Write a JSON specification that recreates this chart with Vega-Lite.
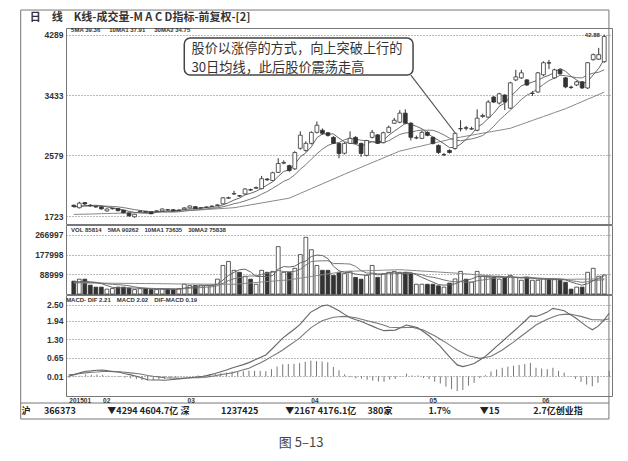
{
 "$schema": "https://vega.github.io/schema/vega-lite/v6.json",
 "padding": {"left": 19, "top": 9, "right": 6, "bottom": 8},
 "background": "white",
 "bounds": "flush",
 "spacing": 1,
 "title": {"text": "图 5–13", "orient": "bottom", "anchor": "middle", "offset": 17, "dx": -15, "fontSize": 13, "font": "Noto Sans CJK SC", "fontWeight": "normal", "color": "#444"},
 "data": {"values": [
{"i":0,"o":1875,"h":1885,"l":1845,"c":1858,"m5":1850,"m10":1855,"m30":1745,"v":58000,"v5":55000,"v10":52000,"v30":50000,"dif":0.00,"dea":0.05,"md":-0.05},
{"i":1,"o":1840,"h":1925,"l":1830,"c":1905,"m5":1862,"m10":1858,"m30":1747,"v":67000,"v5":56000,"v10":52500,"v30":49800,"dif":0.06,"dea":0.07,"md":-0.01},
{"i":2,"o":1912,"h":1920,"l":1880,"c":1893,"m5":1870,"m10":1862,"m30":1749,"v":67000,"v5":57000,"v10":53000,"v30":49600,"dif":0.12,"dea":0.10,"md":0.02},
{"i":3,"o":1875,"h":1890,"l":1855,"c":1868,"m5":1872,"m10":1865,"m30":1751,"v":40000,"v5":55000,"v10":52500,"v30":49400,"dif":0.18,"dea":0.12,"md":0.06},
{"i":4,"o":1858,"h":1868,"l":1840,"c":1850,"m5":1875,"m10":1866,"m30":1753,"v":31000,"v5":52600,"v10":51000,"v30":49200,"dif":0.19,"dea":0.14,"md":0.05},
{"i":5,"o":1852,"h":1860,"l":1815,"c":1823,"m5":1868,"m10":1865,"m30":1756,"v":31000,"v5":47200,"v10":49000,"v30":49000,"dif":0.21,"dea":0.15,"md":0.06},
{"i":6,"o":1795,"h":1830,"l":1785,"c":1822,"m5":1851,"m10":1862,"m30":1758,"v":22000,"v5":38200,"v10":46000,"v30":48800,"dif":0.22,"dea":0.17,"md":0.05},
{"i":7,"o":1825,"h":1840,"l":1815,"c":1830,"m5":1839,"m10":1858,"m30":1760,"v":25000,"v5":29800,"v10":43500,"v30":48600,"dif":0.19,"dea":0.17,"md":0.02},
{"i":8,"o":1828,"h":1835,"l":1790,"c":1798,"m5":1825,"m10":1852,"m30":1762,"v":31000,"v5":28000,"v10":42000,"v30":48400,"dif":0.17,"dea":0.16,"md":0.01},
{"i":9,"o":1805,"h":1812,"l":1760,"c":1768,"m5":1808,"m10":1842,"m30":1765,"v":31000,"v5":28000,"v10":40300,"v30":48200,"dif":0.14,"dea":0.16,"md":-0.02},
{"i":10,"o":1765,"h":1772,"l":1715,"c":1725,"m5":1789,"m10":1828,"m30":1767,"v":27000,"v5":27200,"v10":37200,"v30":48000,"dif":0.09,"dea":0.14,"md":-0.05},
{"i":11,"o":1712,"h":1755,"l":1700,"c":1748,"m5":1774,"m10":1813,"m30":1770,"v":20000,"v5":26800,"v10":32500,"v30":47800,"dif":0.05,"dea":0.12,"md":-0.07},
{"i":12,"o":1785,"h":1805,"l":1775,"c":1792,"m5":1766,"m10":1802,"m30":1772,"v":24000,"v5":26600,"v10":28200,"v30":47500,"dif":0.00,"dea":0.10,"md":-0.10},
{"i":13,"o":1785,"h":1792,"l":1768,"c":1778,"m5":1762,"m10":1793,"m30":1775,"v":25000,"v5":25400,"v10":26700,"v30":47200,"dif":-0.06,"dea":0.07,"md":-0.13},
{"i":14,"o":1782,"h":1790,"l":1748,"c":1755,"m5":1760,"m10":1784,"m30":1777,"v":20000,"v5":23200,"v10":25600,"v30":47000,"dif":-0.12,"dea":0.03,"md":-0.15},
{"i":15,"o":1790,"h":1805,"l":1780,"c":1795,"m5":1774,"m10":1781,"m30":1780,"v":20000,"v5":21800,"v10":24500,"v30":46700,"dif":-0.13,"dea":0.00,"md":-0.13},
{"i":16,"o":1795,"h":1830,"l":1788,"c":1822,"m5":1788,"m10":1781,"m30":1782,"v":22000,"v5":22200,"v10":24500,"v30":46400,"dif":-0.13,"dea":-0.02,"md":-0.11},
{"i":17,"o":1812,"h":1820,"l":1800,"c":1808,"m5":1792,"m10":1779,"m30":1785,"v":22000,"v5":21800,"v10":24200,"v30":46100,"dif":-0.14,"dea":-0.05,"md":-0.09},
{"i":18,"o":1812,"h":1818,"l":1788,"c":1795,"m5":1795,"m10":1779,"m30":1787,"v":22000,"v5":21200,"v10":23300,"v30":45800,"dif":-0.12,"dea":-0.06,"md":-0.06},
{"i":19,"o":1800,"h":1815,"l":1795,"c":1806,"m5":1805,"m10":1782,"m30":1790,"v":24000,"v5":22000,"v10":22600,"v30":45500,"dif":-0.10,"dea":-0.06,"md":-0.04},
{"i":20,"o":1822,"h":1845,"l":1815,"c":1838,"m5":1814,"m10":1794,"m30":1795,"v":44000,"v5":26800,"v10":24300,"v30":45300,"dif":-0.08,"dea":-0.07,"md":-0.01},
{"i":21,"o":1838,"h":1872,"l":1830,"c":1865,"m5":1822,"m10":1805,"m30":1800,"v":38000,"v5":30000,"v10":26100,"v30":45100,"dif":-0.06,"dea":-0.06,"md":0.00},
{"i":22,"o":1855,"h":1862,"l":1820,"c":1828,"m5":1826,"m10":1809,"m30":1805,"v":38000,"v5":33200,"v10":27500,"v30":44900,"dif":-0.04,"dea":-0.05,"md":0.01},
{"i":23,"o":1835,"h":1850,"l":1828,"c":1840,"m5":1835,"m10":1815,"m30":1810,"v":40000,"v5":36800,"v10":29000,"v30":44700,"dif":-0.02,"dea":-0.05,"md":0.03},
{"i":24,"o":1845,"h":1858,"l":1838,"c":1850,"m5":1844,"m10":1825,"m30":1815,"v":38000,"v5":39600,"v10":30800,"v30":44500,"dif":0.00,"dea":-0.04,"md":0.04},
{"i":25,"o":1858,"h":1872,"l":1850,"c":1862,"m5":1849,"m10":1831,"m30":1820,"v":40000,"v5":38800,"v10":32800,"v30":44300,"dif":0.05,"dea":-0.01,"md":0.06},
{"i":26,"o":1872,"h":1890,"l":1865,"c":1880,"m5":1852,"m10":1837,"m30":1825,"v":67000,"v5":44600,"v10":37300,"v30":44100,"dif":0.10,"dea":0.02,"md":0.08},
{"i":27,"o":1895,"h":1990,"l":1890,"c":1980,"m5":1882,"m10":1854,"m30":1830,"v":129000,"v5":62800,"v10":48000,"v30":44000,"dif":0.16,"dea":0.06,"md":0.10},
{"i":28,"o":1975,"h":1995,"l":1965,"c":1982,"m5":1911,"m10":1873,"m30":1835,"v":147000,"v5":84200,"v10":60500,"v30":43900,"dif":0.22,"dea":0.09,"md":0.13},
{"i":29,"o":2035,"h":2080,"l":2020,"c":2040,"m5":1949,"m10":1897,"m30":1840,"v":107000,"v5":98000,"v10":68800,"v30":43900,"dif":0.29,"dea":0.12,"md":0.17},
{"i":30,"o":2010,"h":2020,"l":1995,"c":2005,"m5":1977,"m10":1913,"m30":1854,"v":98000,"v5":109600,"v10":74200,"v30":45900,"dif":0.35,"dea":0.17,"md":0.18},
{"i":31,"o":2035,"h":2115,"l":2025,"c":2105,"m5":2022,"m10":1937,"m30":1867,"v":80000,"v5":112200,"v10":78400,"v30":47900,"dif":0.41,"dea":0.23,"md":0.18},
{"i":32,"o":2095,"h":2110,"l":2080,"c":2090,"m5":2044,"m10":1963,"m30":1881,"v":67000,"v5":99800,"v10":81300,"v30":49900,"dif":0.48,"dea":0.28,"md":0.20},
{"i":33,"o":2115,"h":2140,"l":2105,"c":2125,"m5":2073,"m10":1992,"m30":1894,"v":44000,"v5":79200,"v10":81700,"v30":51900,"dif":0.57,"dea":0.38,"md":0.19},
{"i":34,"o":2110,"h":2290,"l":2100,"c":2250,"m5":2115,"m10":2032,"m30":1908,"v":107000,"v5":79200,"v10":88600,"v30":54000,"dif":0.66,"dea":0.47,"md":0.19},
{"i":35,"o":2245,"h":2260,"l":2220,"c":2235,"m5":2161,"m10":2069,"m30":1921,"v":98000,"v5":79200,"v10":94400,"v30":56000,"dif":0.75,"dea":0.57,"md":0.18},
{"i":36,"o":2225,"h":2350,"l":2215,"c":2335,"m5":2207,"m10":2115,"m30":1935,"v":102000,"v5":83600,"v10":97900,"v30":58000,"dif":0.94,"dea":0.69,"md":0.25},
{"i":37,"o":2340,"h":2540,"l":2330,"c":2465,"m5":2282,"m10":2163,"m30":1948,"v":214000,"v5":113000,"v10":106400,"v30":60000,"dif":1.14,"dea":0.80,"md":0.34},
{"i":38,"o":2470,"h":2510,"l":2455,"c":2480,"m5":2353,"m10":2213,"m30":1962,"v":98000,"v5":123800,"v10":101500,"v30":62000,"dif":1.34,"dea":0.92,"md":0.42},
{"i":39,"o":2435,"h":2450,"l":2350,"c":2365,"m5":2376,"m10":2246,"m30":1975,"v":98000,"v5":122000,"v10":100600,"v30":64000,"dif":1.49,"dea":1.06,"md":0.43},
{"i":40,"o":2390,"h":2640,"l":2375,"c":2620,"m5":2453,"m10":2307,"m30":2009,"v":116000,"v5":125600,"v10":102400,"v30":67800,"dif":1.64,"dea":1.20,"md":0.44},
{"i":41,"o":2680,"h":2920,"l":2660,"c":2865,"m5":2559,"m10":2383,"m30":2043,"v":178000,"v5":140800,"v10":112200,"v30":71600,"dif":1.80,"dea":1.34,"md":0.46},
{"i":42,"o":2650,"h":2780,"l":2630,"c":2750,"m5":2616,"m10":2449,"m30":2077,"v":256000,"v5":149200,"v10":131100,"v30":75400,"dif":2.03,"dea":1.52,"md":0.51},
{"i":43,"o":2750,"h":2920,"l":2735,"c":2905,"m5":2701,"m10":2527,"m30":2111,"v":200000,"v5":169600,"v10":146700,"v30":79200,"dif":2.25,"dea":1.70,"md":0.55},
{"i":44,"o":2906,"h":3060,"l":2890,"c":3006,"m5":2829,"m10":2603,"m30":2145,"v":129000,"v5":175800,"v10":148900,"v30":83000,"dif":2.36,"dea":1.83,"md":0.53},
{"i":45,"o":2935,"h":2960,"l":2870,"c":2892,"m5":2884,"m10":2668,"m30":2178,"v":107000,"v5":174000,"v10":149800,"v30":86800,"dif":2.47,"dea":1.95,"md":0.52},
{"i":46,"o":2900,"h":2910,"l":2845,"c":2862,"m5":2883,"m10":2721,"m30":2212,"v":107000,"v5":159800,"v10":150300,"v30":90600,"dif":2.50,"dea":2.01,"md":0.49},
{"i":47,"o":2835,"h":2850,"l":2740,"c":2750,"m5":2883,"m10":2750,"m30":2246,"v":84000,"v5":125400,"v10":137300,"v30":94400,"dif":2.40,"dea":2.07,"md":0.33},
{"i":48,"o":2749,"h":2760,"l":2540,"c":2607,"m5":2823,"m10":2762,"m30":2280,"v":98000,"v5":105000,"v10":137300,"v30":98200,"dif":2.30,"dea":2.09,"md":0.21},
{"i":49,"o":2610,"h":2765,"l":2595,"c":2750,"m5":2772,"m10":2801,"m30":2314,"v":92000,"v5":97600,"v10":136700,"v30":102000,"dif":2.17,"dea":2.10,"md":0.07},
{"i":50,"o":2750,"h":2920,"l":2740,"c":2821,"m5":2758,"m10":2821,"m30":2347,"v":102000,"v5":96600,"v10":135300,"v30":102800,"dif":2.05,"dea":2.08,"md":-0.03},
{"i":51,"o":2835,"h":2850,"l":2740,"c":2750,"m5":2736,"m10":2809,"m30":2379,"v":75000,"v5":90200,"v10":125000,"v30":103600,"dif":1.98,"dea":2.05,"md":-0.07},
{"i":52,"o":2749,"h":2760,"l":2560,"c":2607,"m5":2707,"m10":2795,"m30":2412,"v":67000,"v5":86800,"v10":106100,"v30":104400,"dif":1.92,"dea":2.00,"md":-0.08},
{"i":53,"o":2580,"h":2800,"l":2565,"c":2790,"m5":2744,"m10":2784,"m30":2445,"v":85000,"v5":84200,"v10":94600,"v30":105200,"dif":1.83,"dea":1.95,"md":-0.12},
{"i":54,"o":2835,"h":2940,"l":2820,"c":2906,"m5":2775,"m10":2774,"m30":2478,"v":129000,"v5":91600,"v10":94600,"v30":106000,"dif":1.75,"dea":1.90,"md":-0.15},
{"i":55,"o":2870,"h":2880,"l":2740,"c":2750,"m5":2761,"m10":2759,"m30":2510,"v":75000,"v5":86200,"v10":91400,"v30":106700,"dif":1.67,"dea":1.85,"md":-0.18},
{"i":56,"o":2760,"h":2915,"l":2750,"c":2900,"m5":2791,"m10":2763,"m30":2543,"v":92000,"v5":89600,"v10":89900,"v30":107500,"dif":1.60,"dea":1.79,"md":-0.19},
{"i":57,"o":2906,"h":3000,"l":2895,"c":2977,"m5":2865,"m10":2786,"m30":2576,"v":98000,"v5":95800,"v10":91300,"v30":108300,"dif":1.61,"dea":1.72,"md":-0.11},
{"i":58,"o":3035,"h":3110,"l":3025,"c":3077,"m5":2922,"m10":2833,"m30":2608,"v":102000,"v5":99200,"v10":91700,"v30":109100,"dif":1.62,"dea":1.71,"md":-0.09},
{"i":59,"o":3049,"h":3220,"l":3035,"c":3177,"m5":2976,"m10":2876,"m30":2641,"v":98000,"v5":93000,"v10":92300,"v30":109900,"dif":1.71,"dea":1.70,"md":0.01},
{"i":60,"o":3177,"h":3230,"l":3020,"c":3035,"m5":3033,"m10":2897,"m30":2659,"v":98000,"v5":97600,"v10":91900,"v30":108400,"dif":1.80,"dea":1.71,"md":0.09},
{"i":61,"o":3035,"h":3050,"l":2790,"c":2835,"m5":3020,"m10":2905,"m30":2678,"v":92000,"v5":97600,"v10":93600,"v30":106900,"dif":1.75,"dea":1.72,"md":0.03},
{"i":62,"o":2825,"h":2860,"l":2810,"c":2830,"m5":2991,"m10":2928,"m30":2696,"v":44000,"v5":86800,"v10":91300,"v30":105300,"dif":1.70,"dea":1.67,"md":0.03},
{"i":63,"o":2821,"h":2930,"l":2810,"c":2906,"m5":2957,"m10":2939,"m30":2714,"v":44000,"v5":75200,"v10":87200,"v30":103800,"dif":1.56,"dea":1.62,"md":-0.06},
{"i":64,"o":2906,"h":2920,"l":2850,"c":2863,"m5":2894,"m10":2935,"m30":2733,"v":44000,"v5":64400,"v10":78700,"v30":102300,"dif":1.42,"dea":1.52,"md":-0.10},
{"i":65,"o":2835,"h":2850,"l":2735,"c":2749,"m5":2837,"m10":2935,"m30":2751,"v":44000,"v5":53600,"v10":75600,"v30":100800,"dif":1.23,"dea":1.42,"md":-0.19},
{"i":66,"o":2721,"h":2735,"l":2600,"c":2621,"m5":2794,"m10":2907,"m30":2769,"v":37000,"v5":42600,"v10":70100,"v30":99300,"dif":1.05,"dea":1.30,"md":-0.25},
{"i":67,"o":2588,"h":2615,"l":2570,"c":2592,"m5":2746,"m10":2869,"m30":2787,"v":31000,"v5":40000,"v10":63400,"v30":97700,"dif":0.82,"dea":1.18,"md":-0.36},
{"i":68,"o":2650,"h":2665,"l":2605,"c":2621,"m5":2689,"m10":2823,"m30":2806,"v":49000,"v5":41000,"v10":58100,"v30":96200,"dif":0.60,"dea":1.05,"md":-0.45},
{"i":69,"o":2678,"h":2905,"l":2660,"c":2892,"m5":2695,"m10":2794,"m30":2824,"v":68000,"v5":45800,"v10":55100,"v30":94700,"dif":0.40,"dea":0.92,"md":-0.52},
{"i":70,"o":2955,"h":3077,"l":2920,"c":2960,"m5":2737,"m10":2787,"m30":2838,"v":102000,"v5":57400,"v10":55500,"v30":92800,"dif":0.34,"dea":0.82,"md":-0.48},
{"i":71,"o":2970,"h":2995,"l":2935,"c":2965,"m5":2806,"m10":2800,"m30":2852,"v":67000,"v5":63400,"v10":53000,"v30":90800,"dif":0.39,"dea":0.72,"md":-0.33},
{"i":72,"o":2952,"h":2985,"l":2940,"c":2958,"m5":2879,"m10":2813,"m30":2866,"v":53000,"v5":67800,"v10":53900,"v30":88900,"dif":0.45,"dea":0.68,"md":-0.23},
{"i":73,"o":2935,"h":3230,"l":2920,"c":3106,"m5":2976,"m10":2833,"m30":2880,"v":102000,"v5":78400,"v10":59700,"v30":86900,"dif":0.57,"dea":0.63,"md":-0.06},
{"i":74,"o":3130,"h":3170,"l":3110,"c":3145,"m5":3027,"m10":2861,"m30":2894,"v":80000,"v5":80800,"v10":63300,"v30":85000,"dif":0.70,"dea":0.66,"md":0.04},
{"i":75,"o":3120,"h":3360,"l":3110,"c":3334,"m5":3102,"m10":2919,"m30":2907,"v":80000,"v5":76400,"v10":66900,"v30":83100,"dif":0.87,"dea":0.70,"md":0.17},
{"i":76,"o":3405,"h":3420,"l":3320,"c":3334,"m5":3175,"m10":2991,"m30":2921,"v":75000,"v5":78000,"v10":70700,"v30":81100,"dif":1.05,"dea":0.81,"md":0.24},
{"i":77,"o":3320,"h":3465,"l":3300,"c":3450,"m5":3274,"m10":3077,"m30":2935,"v":67000,"v5":80800,"v10":74300,"v30":79200,"dif":1.22,"dea":0.92,"md":0.30},
{"i":78,"o":3433,"h":3445,"l":3220,"c":3334,"m5":3319,"m10":3148,"m30":2949,"v":75000,"v5":75400,"v10":76900,"v30":77200,"dif":1.40,"dea":1.06,"md":0.34},
{"i":79,"o":3248,"h":3620,"l":3235,"c":3605,"m5":3411,"m10":3219,"m30":2963,"v":84000,"v5":76200,"v10":78500,"v30":75300,"dif":1.57,"dea":1.20,"md":0.37},
{"i":80,"o":3647,"h":3790,"l":3630,"c":3690,"m5":3483,"m10":3292,"m30":2991,"v":75000,"v5":75200,"v10":75800,"v30":74400,"dif":1.75,"dea":1.35,"md":0.40},
{"i":81,"o":3676,"h":3790,"l":3660,"c":3747,"m5":3565,"m10":3370,"m30":3018,"v":62000,"v5":72600,"v10":75300,"v30":73500,"dif":1.93,"dea":1.50,"md":0.43},
{"i":82,"o":3647,"h":3660,"l":3560,"c":3576,"m5":3590,"m10":3432,"m30":3046,"v":75000,"v5":74200,"v10":77500,"v30":72600,"dif":2.12,"dea":1.65,"md":0.47},
{"i":83,"o":3455,"h":3490,"l":3420,"c":3460,"m5":3616,"m10":3468,"m30":3074,"v":62000,"v5":71600,"v10":73500,"v30":71700,"dif":2.10,"dea":1.80,"md":0.30},
{"i":84,"o":3476,"h":3760,"l":3465,"c":3747,"m5":3644,"m10":3528,"m30":3102,"v":62000,"v5":67200,"v10":71700,"v30":70800,"dif":2.17,"dea":1.90,"md":0.27},
{"i":85,"o":3719,"h":3910,"l":3700,"c":3890,"m5":3684,"m10":3583,"m30":3129,"v":70000,"v5":66200,"v10":70700,"v30":69900,"dif":2.25,"dea":2.00,"md":0.25},
{"i":86,"o":3890,"h":3930,"l":3800,"c":3885,"m5":3712,"m10":3638,"m30":3157,"v":67000,"v5":67200,"v10":69900,"v30":69000,"dif":2.38,"dea":2.08,"md":0.30},
{"i":87,"o":3676,"h":3805,"l":3660,"c":3790,"m5":3754,"m10":3672,"m30":3185,"v":65000,"v5":65200,"v10":69700,"v30":68100,"dif":2.34,"dea":2.15,"md":0.19},
{"i":88,"o":3790,"h":3800,"l":3720,"c":3733,"m5":3809,"m10":3712,"m30":3212,"v":62000,"v5":65200,"v10":68400,"v30":67200,"dif":2.30,"dea":2.17,"md":0.13},
{"i":89,"o":3676,"h":3690,"l":3530,"c":3548,"m5":3769,"m10":3707,"m30":3240,"v":53000,"v5":63400,"v10":65300,"v30":66300,"dif":2.17,"dea":2.18,"md":-0.01},
{"i":90,"o":3545,"h":3565,"l":3520,"c":3540,"m5":3699,"m10":3692,"m30":3273,"v":22000,"v5":53800,"v10":60000,"v30":66600,"dif":2.05,"dea":2.14,"md":-0.09},
{"i":91,"o":3576,"h":3635,"l":3560,"c":3620,"m5":3646,"m10":3679,"m30":3307,"v":31000,"v5":46600,"v10":56900,"v30":66900,"dif":1.90,"dea":2.10,"md":-0.20},
{"i":92,"o":3620,"h":3630,"l":3520,"c":3533,"m5":3595,"m10":3675,"m30":3340,"v":31000,"v5":39800,"v10":52500,"v30":67100,"dif":1.75,"dea":2.04,"md":-0.29},
{"i":93,"o":3533,"h":3900,"l":3520,"c":3890,"m5":3626,"m10":3718,"m30":3374,"v":98000,"v5":47000,"v10":56100,"v30":67400,"dif":1.63,"dea":1.98,"md":-0.35},
{"i":94,"o":3933,"h":4020,"l":3920,"c":4004,"m5":3717,"m10":3743,"m30":3407,"v":116000,"v5":59600,"v10":61500,"v30":67700,"dif":1.75,"dea":1.98,"md":-0.23},
{"i":95,"o":3940,"h":4100,"l":3930,"c":4004,"m5":3810,"m10":3755,"m30":3441,"v":80000,"v5":71200,"v10":62500,"v30":68000,"dif":1.95,"dea":1.97,"md":-0.02},
{"i":96,"o":3904,"h":4288,"l":3890,"c":4261,"m5":3938,"m10":3792,"m30":3474,"v":85814,"v5":82200,"v10":64400,"v30":68300,"dif":2.21,"dea":2.02,"md":0.19}
 ]},
 "vconcat": [
  {
   "width": 546, "height": 196,
   "layer": [
    {"mark": {"type": "rule", "color": "#333", "strokeWidth": 1},
     "encoding": {
      "x": {"field": "i", "type": "quantitative", "scale": {"domain": [-0.5, 96.5], "nice": false, "zero": false}, "axis": null},
      "y": {"field": "l", "type": "quantitative", "scale": {"domain": [1610, 4381], "nice": false, "zero": false}, "axis": {"values": [1723, 2579, 3433, 4289], "tickCount": 20, "format": "d", "title": null}},
      "y2": {"field": "h"}}},
    {"data": {"values": [{"t": "frame"}]},
     "mark": {"type": "rect", "fill": "transparent", "stroke": "#777", "strokeWidth": 1, "clip": false},
     "encoding": {"x": {"datum": -9.6, "type": "quantitative", "axis": null}, "x2": {"datum": 96.85}, "y": {"datum": 4635, "type": "quantitative", "title": null}, "y2": {"datum": -1147}}},
    {"data": {"values": [{"t": "status bar"}]},
     "mark": {"type": "rule", "color": "#777", "strokeWidth": 1, "clip": false},
     "encoding": {"x": {"datum": -9.6, "type": "quantitative", "axis": null}, "x2": {"datum": 96.85}, "y": {"datum": -921, "type": "quantitative", "title": null}}},
    {"data": {"values": [{"t": "日　线　K线-成交量-M A C D指标-前复权-[2]"}]},
     "mark": {"type": "text", "align": "left", "baseline": "middle", "fontSize": 11, "fontWeight": "bold", "font": "Noto Sans CJK SC", "color": "#333"},
     "encoding": {"x": {"datum": -7.96, "type": "quantitative", "axis": null}, "y": {"datum": 4522, "type": "quantitative", "title": null}, "text": {"field": "t"}}},
    {"mark": {"type": "line", "color": "#888", "strokeWidth": 1},
     "encoding": {"x": {"field": "i", "type": "quantitative", "axis": null}, "y": {"field": "m30", "type": "quantitative", "title": null}}},
    {"mark": {"type": "line", "color": "#777", "strokeWidth": 1},
     "encoding": {"x": {"field": "i", "type": "quantitative", "axis": null}, "y": {"field": "m10", "type": "quantitative", "title": null}}},
    {"mark": {"type": "line", "color": "#666", "strokeWidth": 1},
     "encoding": {"x": {"field": "i", "type": "quantitative", "axis": null}, "y": {"field": "m5", "type": "quantitative", "title": null}}},
    {"mark": {"type": "bar", "size": 3.8, "stroke": "#333", "strokeWidth": 0.8},
     "encoding": {
      "x": {"field": "i", "type": "quantitative", "axis": null},
      "y": {"field": "o", "type": "quantitative", "title": null},
      "y2": {"field": "c"},
      "fill": {"condition": {"test": "datum.c >= datum.o", "value": "#ffffff"}, "value": "#333333"}}},
    {"data": {"values": [{"t": "5MA 39.36\u2003\u200210MA1 37.91\u2003\u200230MA2 34.75"}]},
     "mark": {"type": "text", "align": "left", "baseline": "middle", "fontSize": 6, "fontWeight": "bold", "font": "Liberation Sans", "color": "#333", "dx": -1},
     "encoding": {"x": {"datum": -0.3, "type": "quantitative", "axis": null}, "y": {"datum": 4350, "type": "quantitative", "title": null}, "text": {"field": "t"}}},
    {"data": {"values": [{"t": "42.88"}]},
     "mark": {"type": "text", "align": "right", "baseline": "middle", "fontSize": 6, "fontWeight": "bold", "font": "Liberation Sans", "color": "#333"},
     "encoding": {"x": {"datum": 95.2, "type": "quantitative", "axis": null}, "y": {"datum": 4275, "type": "quantitative", "title": null}, "text": {"field": "t"}}},
    {"data": {"values": [{"t": "pointer"}]},
     "mark": {"type": "rule", "color": "#555", "strokeWidth": 1.2},
     "encoding": {"x": {"datum": 61, "type": "quantitative", "axis": null}, "x2": {"datum": 69}, "y": {"datum": 3716, "type": "quantitative", "title": null}, "y2": {"datum": 2900}}},
    {"data": {"values": [{"t": "box"}]},
     "mark": {"type": "rect", "fill": "#ffffff", "stroke": "#444", "strokeWidth": 1.5, "cornerRadius": 6},
     "encoding": {"x": {"datum": 20, "type": "quantitative", "axis": null}, "x2": {"datum": 61.4}, "y": {"datum": 4240, "type": "quantitative", "title": null}, "y2": {"datum": 3716}}},
    {"data": {"values": [{"t": "股价以涨停的方式，向上突破上行的"}]},
     "mark": {"type": "text", "align": "left", "baseline": "middle", "fontSize": 13.2, "font": "Noto Sans CJK SC", "color": "#333"},
     "encoding": {"x": {"datum": 21.3, "type": "quantitative", "axis": null}, "y": {"datum": 4090, "type": "quantitative", "title": null}, "text": {"field": "t"}}},
    {"data": {"values": [{"t": "30日均线，此后股价震荡走高"}]},
     "mark": {"type": "text", "align": "left", "baseline": "middle", "fontSize": 13.2, "font": "Noto Sans CJK SC", "color": "#333"},
     "encoding": {"x": {"datum": 21.3, "type": "quantitative", "axis": null}, "y": {"datum": 3818, "type": "quantitative", "title": null}, "text": {"field": "t"}}}
   ]
  },
  {
   "width": 546, "height": 69,
   "layer": [
    {"mark": {"type": "bar", "size": 3.8, "stroke": "#333", "strokeWidth": 0.8},
     "encoding": {
      "x": {"field": "i", "type": "quantitative", "scale": {"domain": [-0.5, 96.5], "nice": false, "zero": false}, "axis": null},
      "y": {"field": "v", "type": "quantitative", "scale": {"domain": [0, 311700], "nice": false}, "axis": {"values": [88999, 177998, 266997], "tickCount": 20, "title": null, "format": "d", "labelOverlap": false}},
      "fill": {"condition": {"test": "datum.c >= datum.o", "value": "#ffffff"}, "value": "#333333"}}},
    {"mark": {"type": "line", "color": "#888", "strokeWidth": 1},
     "encoding": {"x": {"field": "i", "type": "quantitative", "axis": null}, "y": {"field": "v30", "type": "quantitative", "title": null}}},
    {"mark": {"type": "line", "color": "#777", "strokeWidth": 1},
     "encoding": {"x": {"field": "i", "type": "quantitative", "axis": null}, "y": {"field": "v10", "type": "quantitative", "title": null}}},
    {"mark": {"type": "line", "color": "#666", "strokeWidth": 1},
     "encoding": {"x": {"field": "i", "type": "quantitative", "axis": null}, "y": {"field": "v5", "type": "quantitative", "title": null}}},
    {"data": {"values": [{"t": "VOL 85814\u2002\u20025MA 90262\u2002\u200210MA1 73635\u2002\u200230MA2 75838"}]},
     "mark": {"type": "text", "align": "left", "baseline": "middle", "fontSize": 6, "fontWeight": "bold", "font": "Liberation Sans", "color": "#333", "dx": -1},
     "encoding": {"x": {"datum": -0.3, "type": "quantitative", "axis": null}, "y": {"datum": 291000, "type": "quantitative", "title": null}, "text": {"field": "t"}}}
   ]
  },
  {
   "width": 546, "height": 101,
   "layer": [
    {"mark": {"type": "rule", "color": "#777", "strokeWidth": 1},
     "encoding": {
      "x": {"field": "i", "type": "quantitative", "scale": {"domain": [-0.5, 96.5], "nice": false, "zero": false},
            "axis": {"values": [0, 6, 21, 43, 64, 84], "tickCount": 20, "grid": false, "labelExpr": "datum.value == 0 ? '201501' : datum.value == 6 ? '02' : datum.value == 21 ? '03' : datum.value == 43 ? '04' : datum.value == 64 ? '05' : '06'", "labelAlign": "left", "labelFontSize": 6.5, "labelPadding": 1, "labelOverlap": false, "labelFlush": false,
                     "title": "沪\u3000\u2002366373\u3000\u3000\u3000\u2002▼4294\u20054604.7亿\u2005深\u3000\u3000\u3000\u20021237425\u3000\u3000\u3000▼2167\u20054176.1亿\u3000\u2005380家\u3000\u3000\u3000\u30001.7%\u3000\u3000\u3000\u2005▼15\u3000\u3000\u3000\u2002\u20052.7亿创业指",
                     "titleX": -45, "titleAnchor": "start", "titleAlign": "left", "titlePadding": 3, "titleFont": "Noto Sans CJK SC", "titleFontSize": 9, "titleFontWeight": "bold", "titleColor": "#222"}},
      "y": {"field": "md", "type": "quantitative", "scale": {"domain": [-0.69, 2.85], "nice": false, "zero": false}, "axis": {"values": [0.01, 0.65, 1.3, 1.94, 2.5], "tickCount": 20, "format": ".2f", "title": null, "labelOverlap": false}},
      "y2": {"datum": 0}}},
    {"mark": {"type": "line", "color": "#777", "strokeWidth": 1.1},
     "encoding": {"x": {"field": "i", "type": "quantitative"}, "y": {"field": "dea", "type": "quantitative", "title": null}}},
    {"mark": {"type": "line", "color": "#666", "strokeWidth": 1.1},
     "encoding": {"x": {"field": "i", "type": "quantitative"}, "y": {"field": "dif", "type": "quantitative", "title": null}}},
    {"data": {"values": [{"t": "MACD- DIF 2.21\u2002\u2002MACD 2.02\u2002\u2002DIF-MACD 0.19"}]},
     "mark": {"type": "text", "align": "left", "baseline": "middle", "fontSize": 6, "fontWeight": "bold", "font": "Liberation Sans", "color": "#333", "dx": -1},
     "encoding": {"x": {"datum": -0.3, "type": "quantitative"}, "y": {"datum": 2.69, "type": "quantitative", "title": null}, "text": {"field": "t"}}}
   ]
  }
 ],
 "config": {
  "view": {"stroke": "#777", "strokeWidth": 1},
  "axis": {"domain": false, "ticks": false, "grid": true, "gridColor": "#777", "gridDash": [1, 2], "gridWidth": 1, "labelFont": "Liberation Sans", "labelFontWeight": "bold", "labelFontSize": 8.5, "labelColor": "#333", "labelPadding": 3, "labelOverlap": false}
 }
}
